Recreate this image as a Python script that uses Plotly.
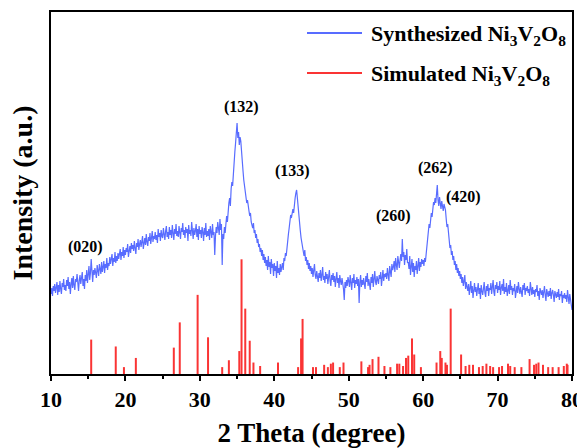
import plotly.graph_objects as go

# ---------------- data ----------------
# Synthesized Ni3V2O8: measured XRD pattern, 2θ = 10.0 … 80.0 in 0.1° steps
two_theta_start = 10.0
two_theta_step = 0.1
synth_rows = [
    [80, 86, 78, 88, 83, 90, 81, 87, 92, 79],          # 10
    [89, 82, 93, 85, 80, 91, 87, 95, 84, 89],          # 11
    [83, 94, 88, 97, 85, 92, 80, 90, 96, 86],          # 12
    [98, 89, 84, 95, 92, 100, 87, 83, 94, 99],         # 13
    [90, 97, 102, 88, 95, 85, 99, 93, 104, 91],        # 14
    [97, 108, 94, 101, 115, 98, 92, 104, 99, 106],     # 15
    [101, 96, 109, 103, 98, 110, 105, 100, 112, 102],  # 16
    [107, 113, 101, 110, 106, 116, 104, 111, 108, 117],# 17
    [110, 114, 120, 108, 116, 112, 122, 111, 118, 113],# 18
    [121, 115, 119, 125, 114, 122, 118, 127, 116, 124],# 19
    [119, 126, 122, 130, 117, 124, 128, 121, 131, 125],# 20
    [129, 123, 133, 126, 120, 131, 127, 135, 124, 130],# 21
    [134, 127, 131, 138, 125, 133, 136, 129, 140, 132],# 22
    [128, 137, 133, 141, 130, 136, 143, 132, 138, 135],# 23
    [142, 134, 139, 131, 145, 137, 141, 133, 144, 138],# 24
    [136, 146, 140, 134, 143, 148, 137, 142, 135, 147],# 25
    [139, 144, 136, 149, 141, 134, 145, 140, 150, 138],# 26
    [143, 137, 148, 140, 135, 146, 142, 151, 139, 144],# 27
    [136, 147, 141, 145, 133, 149, 140, 144, 138, 152],# 28
    [141, 135, 146, 139, 143, 150, 137, 145, 134, 148],# 29
    [140, 144, 136, 147, 142, 133, 146, 139, 151, 137],# 30
    [143, 138, 145, 134, 148, 141, 136, 150, 139, 142],# 31
    [119, 138, 147, 141, 152, 146, 139, 155, 144, 150],# 32
    [109, 140, 135, 147, 141, 150, 158, 152, 165, 171],# 33
    [176, 168, 185, 192, 188, 203, 210, 222, 231, 238],# 34
    [251, 236, 242, 229, 237, 233, 218, 205, 203, 194],# 35
    [188, 182, 177, 171, 174, 165, 163, 158, 161, 152],# 36
    [150, 146, 151, 141, 144, 136, 140, 131, 135, 127],# 37
    [130, 122, 126, 118, 124, 114, 120, 111, 117, 108],# 38
    [114, 104, 118, 107, 112, 100, 115, 106, 110, 98], # 39
    [111, 103, 108, 96, 113, 101, 106, 99, 110, 102],  # 40
    [107, 111, 104, 116, 113, 121, 118, 128, 133, 140],# 41
    [146, 152, 159, 156, 163, 165, 161, 172, 176, 181],# 42
    [184, 176, 166, 158, 150, 143, 136, 131, 127, 122],# 43
    [118, 124, 113, 117, 109, 114, 105, 111, 103, 108],# 44
    [100, 106, 97, 104, 110, 99, 95, 103, 98, 92],     # 45
    [101, 96, 104, 93, 99, 107, 94, 98, 91, 102],      # 46
    [95, 100, 90, 97, 104, 93, 88, 99, 94, 101],       # 47
    [92, 98, 87, 95, 102, 91, 96, 86, 99, 93],         # 48
    [89, 96, 91, 85, 74, 92, 86, 94, 88, 97],          # 49
    [93, 87, 99, 90, 84, 96, 91, 100, 86, 94],         # 50
    [90, 97, 88, 95, 71, 92, 99, 87, 94, 89],          # 51
    [96, 90, 85, 98, 92, 101, 88, 95, 91, 84],         # 52
    [97, 91, 100, 87, 95, 103, 92, 89, 98, 94],        # 53
    [90, 99, 95, 102, 88, 96, 104, 93, 100, 97],       # 54
    [101, 95, 106, 99, 93, 108, 103, 97, 110, 104],    # 55
    [107, 113, 102, 116, 109, 104, 118, 111, 106, 114],# 56
    [120, 113, 135, 117, 122, 109, 119, 114, 125, 111],# 57
    [112, 105, 118, 99, 110, 115, 102, 111, 97, 108],  # 58
    [104, 113, 100, 109, 116, 103, 112, 107, 115, 110],# 59
    [114, 108, 116, 112, 121, 127, 133, 141, 150, 146],# 60
    [156, 161, 157, 166, 172, 169, 176, 171, 179, 189],# 61
    [174, 168, 177, 170, 165, 173, 168, 163, 170, 166],# 62
    [164, 155, 147, 150, 138, 132, 126, 129, 119, 123],# 63
    [114, 118, 109, 113, 104, 110, 101, 106, 98, 103], # 64
    [95, 100, 91, 97, 88, 93, 99, 85, 92, 87],         # 65
    [83, 90, 79, 86, 93, 81, 88, 76, 85, 91],          # 66
    [82, 87, 78, 84, 91, 80, 86, 75, 89, 83],          # 67
    [79, 85, 92, 81, 77, 88, 83, 90, 78, 86],          # 68
    [84, 91, 80, 87, 94, 82, 78, 89, 85, 92],          # 69
    [81, 88, 84, 93, 79, 86, 90, 83, 95, 80],          # 70
    [87, 82, 91, 78, 85, 89, 80, 94, 84, 88],          # 71
    [79, 86, 83, 90, 76, 84, 88, 81, 92, 85],          # 72
    [80, 87, 82, 77, 89, 84, 91, 79, 86, 83],          # 73
    [88, 81, 85, 78, 92, 83, 79, 87, 80, 84],          # 74
    [77, 85, 82, 89, 78, 83, 74, 86, 81, 79],          # 75
    [84, 76, 82, 88, 79, 73, 85, 80, 77, 83],          # 76
    [78, 86, 75, 81, 84, 79, 72, 83, 80, 76],          # 77
    [82, 77, 85, 74, 80, 78, 83, 71, 79, 76],          # 78
    [81, 75, 79, 72, 84, 77, 70, 80, 74, 69],          # 79
    [64],                                              # 80
]

# Simulated Ni3V2O8: reflection positions (2θ) and relative intensities (%)
sim_two_theta = [
    15.4, 18.7, 19.8, 21.4, 26.5, 27.3, 29.7, 31.1, 33.0, 33.9,
    35.3, 35.6, 36.1, 36.7, 37.2, 38.1, 40.5, 43.2, 43.6, 43.8,
    45.2, 45.6, 46.7, 47.2, 47.6, 47.9, 48.8, 49.3, 51.7, 52.6,
    52.8, 53.2, 54.0, 54.8, 55.6, 56.5, 56.8, 57.3, 57.7, 58.0,
    58.5, 58.8, 59.7, 61.8, 62.3, 62.5, 63.0, 63.2, 63.7, 65.1,
    65.7, 66.2, 66.7, 67.5, 68.0, 68.5, 69.0, 69.4, 70.2, 70.6,
    71.4, 71.7, 72.3, 73.2, 74.3, 74.9, 75.2, 75.5, 76.1, 76.8,
    77.4, 78.2, 78.9, 79.3, 79.4,
]
sim_intensity = [
    30, 24, 6, 14, 23, 45, 69, 32, 6, 12,
    20, 100, 57, 29, 10, 7, 10, 6, 31, 48,
    6, 6, 8, 6, 9, 10, 6, 10, 11, 6,
    8, 13, 15, 7, 6, 9, 9, 7, 14, 16,
    31, 17, 6, 10, 20, 14, 10, 8, 57, 17,
    7, 8, 8, 6, 7, 9, 7, 6, 6, 7,
    9, 7, 6, 6, 13, 8, 9, 10, 8, 6,
    6, 6, 7, 9, 8,
]

# Miller-index labels: (text, 2θ, label height on the measured-pattern scale)
hkl_labels = ["(020)", "(132)", "(133)", "(260)", "(262)", "(420)"]
hkl_two_theta = [14.6, 35.6, 42.5, 56.0, 61.6, 65.4]
hkl_height = [127, 267, 203, 158, 206, 177]

x_ticks = [10, 20, 30, 40, 50, 60, 70, 80]

# ---------------- build traces ----------------
synth_y = [v for row in synth_rows for v in row]
synth_x = [round(two_theta_start + i * two_theta_step, 1) for i in range(len(synth_y))]

stick_x, stick_y = [], []
for t, h in zip(sim_two_theta, sim_intensity):
    stick_x += [t, t, None]
    stick_y += [0, h, None]

BLUE = "rgb(88,108,255)"
RED = "rgb(250,52,52)"
SERIF = "Times New Roman"

fig = go.Figure()
fig.add_trace(go.Scatter(
    x=stick_x, y=stick_y, mode="lines", yaxis="y2",
    line=dict(color=RED, width=2), name="Simulated", showlegend=False,
    hoverinfo="skip",
))
fig.add_trace(go.Scatter(
    x=synth_x, y=synth_y, mode="lines",
    line=dict(color=BLUE, width=1.2), name="Synthesized", showlegend=False,
))

# ---------------- layout ----------------
W, H = 577, 448
ML, MR, MT, MB = 51, 5, 12, 74

fig.update_layout(
    width=W, height=H,
    margin=dict(l=ML, r=MR, t=MT, b=MB, autoexpand=False),
    paper_bgcolor="white", plot_bgcolor="white",
    font=dict(family=SERIF, color="black"),
    xaxis=dict(
        range=[10, 80], tickvals=x_ticks, ticktext=[f"<b>{v}</b>" for v in x_ticks],
        ticks="outside", ticklen=5, tickwidth=2, tickcolor="black",
        ticklabeloverflow="allow", automargin=False,
        minor=dict(dtick=5, tick0=10, ticks="outside", ticklen=3, tickwidth=1.5, tickcolor="black"),
        showline=True, linewidth=2, linecolor="black", mirror=True,
        showgrid=False, zeroline=False,
        tickfont=dict(size=22, family=SERIF, color="black"),
        title=dict(text="<b>2 Theta (degree)</b>", font=dict(size=27, family=SERIF, color="black"), standoff=13),
    ),
    yaxis=dict(
        range=[0, 362], showticklabels=False, ticks="", automargin=False,
        showline=True, linewidth=2, linecolor="black", mirror=True,
        showgrid=False, zeroline=False,
        title=dict(text="<b>Intensity (a.u.)</b>", font=dict(size=28, family=SERIF, color="black"), standoff=8),
    ),
    yaxis2=dict(
        range=[0, 315.6], overlaying="y", showticklabels=False, ticks="",
        showgrid=False, zeroline=False, showline=False,
    ),
)

# hkl annotations
for txt, t, h in zip(hkl_labels, hkl_two_theta, hkl_height):
    fig.add_annotation(
        x=t, y=h, xref="x", yref="y", text=f"<b>{txt}</b>", showarrow=False,
        font=dict(size=16, family=SERIF, color="black"),
    )

# legend drawn in paper coordinates
PW, PH = W - ML - MR, H - MT - MB
def px(xp):
    return (xp - ML) / PW
def py(yp):
    return (H - MB - yp) / PH

legend_items = [
    ("Synthesized Ni<sub>3</sub>V<sub>2</sub>O<sub>8</sub>", BLUE, 33),
    ("Simulated Ni<sub>3</sub>V<sub>2</sub>O<sub>8</sub>", RED, 73),
]
for label, color, yy in legend_items:
    fig.add_shape(type="line", xref="paper", yref="paper",
                  x0=px(307), x1=px(362), y0=py(yy), y1=py(yy),
                  line=dict(color=color, width=2))
    fig.add_annotation(
        x=px(369), y=py(yy + 2), xref="paper", yref="paper", xanchor="left", yanchor="middle",
        text=f"<b>{label}</b>", showarrow=False,
        font=dict(size=22, family=SERIF, color="black"),
    )

fig.write_html("out.html")
